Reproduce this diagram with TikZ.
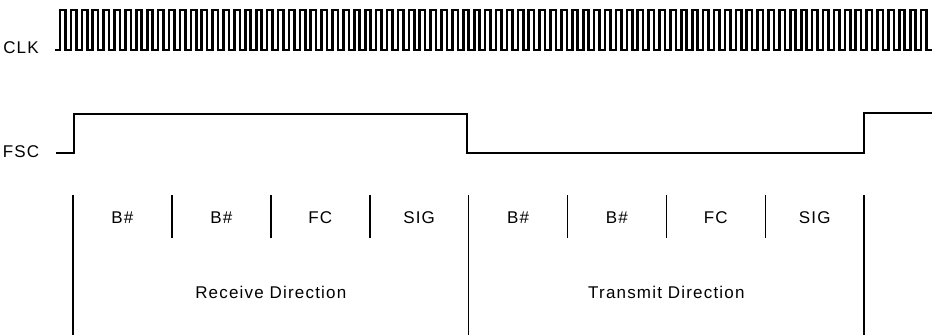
\documentclass[tikz,border=0pt]{standalone}
\usepackage{fontspec}
\setmainfont{Liberation Sans}[LetterSpace=7]
\usetikzlibrary{calc}
\tikzset{
  wave/.style={line width=2.6pt, line join=miter},
  sepline/.style={line width=1.6pt},
  lbl/.style={font=\fontsize{17}{19}\selectfont, inner sep=0pt},
}

\begin{document}
\begin{tikzpicture}[x=1pt,y=-1pt]
\useasboundingbox (0,0) rectangle (932,335);

% signal names
\node[lbl] (clk) at (21,48) {CLK};
\node[lbl] (fsc) at (21,152) {FSC};

% clock
\draw[wave] (55,50)
  \foreach \i in {0,...,79} {
    -- ({60+\i*10.9},50) -- ({60+\i*10.9},10)
    -- ({65.45+\i*10.9},10) -- ({65.45+\i*10.9},50) }
  -- (932,50);

% frame sync
\draw[wave] (56,153) -- (74,153) -- (74,114) -- (467,114)
  -- (467,153) -- (864,153) -- (864,113) -- (932,113);

% time slots
\foreach \k in {0,...,8}
  \coordinate (t\k) at ({73+\k*98.9},195);
\foreach \k in {1,2,3,5,6,7}
  \draw[sepline] (t\k) -- ++(0,43);
\foreach \k in {0,4,8}
  \draw[sepline] (t\k) -- ++(0,140);

\node[lbl] (rB1)  at ($(t0)!.5!(t1)+(0,23)$) {B\#};
\node[lbl] (rB2)  at ($(t1)!.5!(t2)+(0,23)$) {B\#};
\node[lbl] (rFC)  at ($(t2)!.5!(t3)+(0,23)$) {FC};
\node[lbl] (rSIG) at ($(t3)!.5!(t4)+(0,23)$) {SIG};
\node[lbl] (tB1)  at ($(t4)!.5!(t5)+(0,23)$) {B\#};
\node[lbl] (tB2)  at ($(t5)!.5!(t6)+(0,23)$) {B\#};
\node[lbl] (tFC)  at ($(t6)!.5!(t7)+(0,23)$) {FC};
\node[lbl] (tSIG) at ($(t7)!.5!(t8)+(0,23)$) {SIG};

\node[lbl] (rx) at ($(t0)!.5!(t4)+(0,97)$) {Receive Direction};
\node[lbl] (tx) at ($(t4)!.5!(t8)+(0,97)$) {Transmit Direction};

\end{tikzpicture}
\end{document}
